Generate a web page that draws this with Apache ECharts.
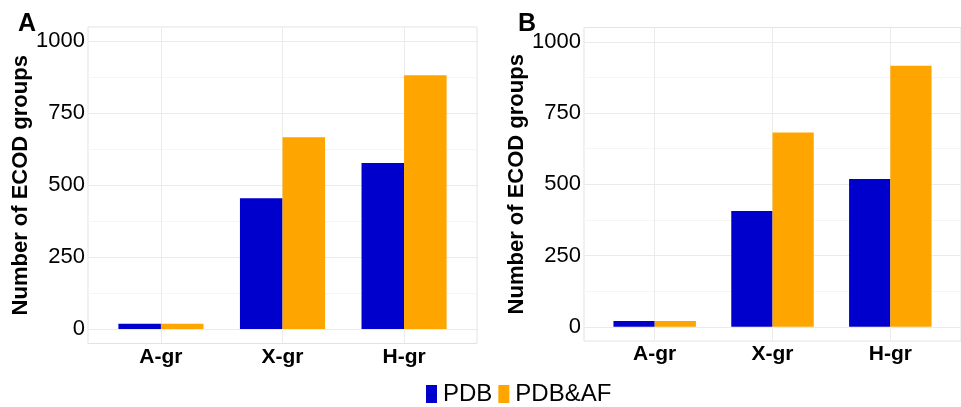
<!DOCTYPE html>
<html><head><meta charset="utf-8">
<script src="https://cdn.jsdelivr.net/npm/echarts@6/dist/echarts.min.js"></script>
<style>html,body{margin:0;padding:0;background:#fff}#c{width:961px;height:407px}</style>
</head><body><div id="c"></div>
<script>
const categories = ['A-gr', 'X-gr', 'H-gr'];
const panelLabels = ['A', 'B'];
const seriesNames = ['PDB', 'PDB&AF'];
const pdbA = [19, 455, 577];
const pdbafA = [19, 667, 882];
const pdbB = [20, 406, 518];
const pdbafB = [20, 682, 916];
const yTicks = [0, 250, 500, 750, 1000];
const yMinorTicks = [125, 375, 625, 875];
const yTitle = 'Number of ECOD groups';

const FONT = 'Liberation Sans';
const colors = ['#0000CD', '#FFA500'];
const catPos = categories.map((c, i) => i + 1);
const panels = [[pdbA, pdbafA], [pdbB, pdbafB]];
const grids = [
  {left: 88, top: 27, width: 389, height: 316.5},
  {left: 584, top: 27.5, width: 388, height: 313.5}
];

const option = {
  animation: false,
  backgroundColor: '#fff',
  textStyle: {fontFamily: FONT},
  title: panelLabels.map((t, i) => ({
    text: t, left: [18, 518][i], top: 12, padding: 0,
    textStyle: {fontSize: 25, fontWeight: 'bold', color: '#000', fontFamily: FONT}
  })),
  legend: {
    left: 426, top: 382, padding: 0, itemWidth: 11, itemHeight: 18, itemGap: 6, icon: 'rect',
    data: seriesNames,
    textStyle: {fontSize: 24, color: '#000', fontFamily: FONT, padding: [0, 0, 0, 1]}
  },
  grid: grids.map(g => Object.assign({show: true, borderColor: '#e3e3e3', borderWidth: 1, backgroundColor: 'transparent'}, g)),
  xAxis: grids.map((g, i) => ({
    type: 'value', gridIndex: i, min: 0.4, max: 3.6,
    axisLine: {show: false},
    axisTick: {show: false, customValues: catPos},
    axisLabel: {customValues: catPos, formatter: v => categories[Math.round(v) - 1],
      fontSize: 21, fontWeight: 'bold', color: '#000', margin: 3, fontFamily: FONT},
    splitLine: {show: true, lineStyle: {color: '#ebebeb', width: 1}}
  })),
  yAxis: [],
  series: []
};

grids.forEach((g, i) => {
  option.yAxis.push({
    type: 'value', gridIndex: i, min: -50, max: 1050, position: 'left',
    axisLine: {show: false},
    axisTick: {show: false, customValues: yTicks},
    axisLabel: {customValues: yTicks, formatter: v => String(v), fontSize: 22, color: '#000', margin: 3, fontFamily: FONT},
    splitLine: {show: true, lineStyle: {color: '#ebebeb', width: 1}},
    name: yTitle, nameLocation: 'middle', nameGap: 47,
    nameTextStyle: {fontSize: 22, fontWeight: 'bold', color: '#000', fontFamily: FONT}
  });
  option.yAxis.push({
    type: 'value', gridIndex: i, min: -50, max: 1050, position: 'left',
    axisLine: {show: false},
    axisTick: {show: false, customValues: yMinorTicks},
    axisLabel: {show: false, customValues: yMinorTicks},
    splitLine: {show: true, lineStyle: {color: '#f5f5f5', width: 1}}
  });
  panels[i].forEach((vals, s) => {
    option.series.push({
      type: 'bar', name: seriesNames[s], xAxisIndex: i, yAxisIndex: 2 * i,
      barWidth: '35%', barGap: '0%',
      itemStyle: {color: colors[s]},
      data: vals.map((v, k) => [catPos[k], v])
    });
  });
});

const chart = echarts.init(document.getElementById('c'), null, {renderer: 'canvas'});
chart.setOption(option);
</script>
</body></html>
